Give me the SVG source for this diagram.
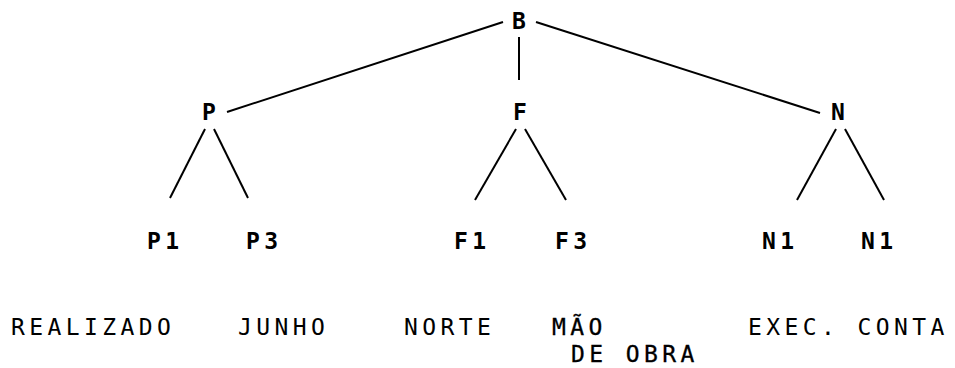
<svg xmlns="http://www.w3.org/2000/svg" width="955" height="368" viewBox="0 0 955 368">
<style>
text{font-family:"DejaVu Sans Mono","Liberation Mono",monospace;font-size:23px;fill:#000;letter-spacing:4.4px}
.n{font-weight:bold}
.m{stroke:#000;stroke-width:0.3}
line{stroke:#000;stroke-width:2}
</style>
<rect width="955" height="368" fill="#fff"/>
<g id="connectors">
<line x1="503" y1="22" x2="227" y2="112"/>
<line x1="536" y1="22" x2="820" y2="113"/>
<line x1="519" y1="37" x2="519" y2="80"/>
<line x1="205" y1="129" x2="170" y2="198"/>
<line x1="214" y1="129" x2="248" y2="198"/>
<line x1="516" y1="129" x2="475" y2="200"/>
<line x1="525" y1="129" x2="566" y2="200"/>
<line x1="836" y1="129" x2="797" y2="200"/>
<line x1="845" y1="129" x2="884" y2="200"/>
</g>
<g id="B"><text class="n" x="512" y="29">B</text></g>
<g id="P"><text class="n" x="202" y="120">P</text></g>
<g id="F"><text class="n" x="513" y="120">F</text></g>
<g id="N"><text class="n" x="831" y="120">N</text></g>
<g id="P1"><text class="n" x="147" y="249">P1</text></g>
<g id="P3"><text class="n" x="246" y="249">P3</text></g>
<g id="F1"><text class="n" x="454" y="249">F1</text></g>
<g id="F3"><text class="n" x="555" y="249">F3</text></g>
<g id="N1a"><text class="n" x="762" y="249">N1</text></g>
<g id="N1b"><text class="n" x="861" y="249">N1</text></g>
<g id="labels">
<text x="11" y="335">REALIZADO</text>
<text x="238" y="335">JUNHO</text>
<text x="404" y="335">NORTE</text>
<text class="m" x="552" y="335">MÃO</text>
<text class="m" x="571" y="362">DE OBRA</text>
<text x="748" y="335">EXEC. CONTA</text>
</g>
</svg>
